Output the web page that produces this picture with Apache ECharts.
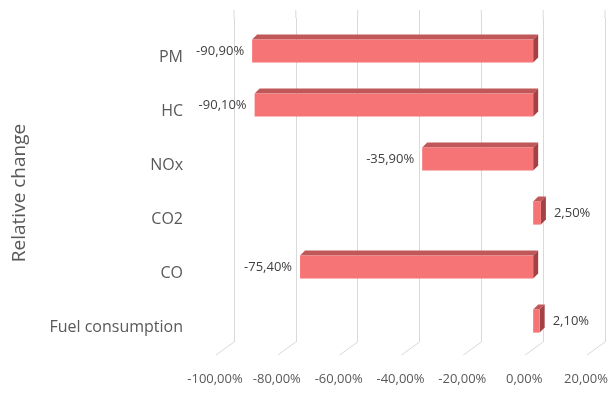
<!DOCTYPE html>
<html>
<head>
<meta charset="utf-8">
<script src="https://cdn.jsdelivr.net/npm/echarts@6/dist/echarts.min.js"></script>
<style>html,body{margin:0;padding:0;background:#fff}#c{width:613px;height:394px}</style>
</head>
<body>
<div id="c"></div>
<script>
const categories = ['PM', 'HC', 'NOx', 'CO2', 'CO', 'Fuel consumption'];
const values = [-90.9, -90.1, -35.9, 2.5, -75.4, 2.1];
const xTicks = [-100, -80, -60, -40, -20, 0, 20];
const axisTitle = 'Relative change';

const FONT = '"Open Sans", "Liberation Sans", sans-serif';
const fmt = v => v.toFixed(2).replace('.', ',') + '%';

const chart = echarts.init(document.getElementById('c'), null, {renderer: 'canvas'});

const barData = values.map((v, i) => [v, i]);
const floorData = xTicks.map(t => [t, 0]);

chart.setOption({
  animation: false,
  backgroundColor: '#fff',
  grid: {left: 234, right: 8, top: 18, bottom: 52, containLabel: false},
  xAxis: {
    type: 'value', min: xTicks[0], max: xTicks[xTicks.length - 1], interval: 20,
    axisLine: {show: false}, axisTick: {show: false},
    splitLine: {show: true, lineStyle: {color: '#d9d9d9', width: 1}},
    axisLabel: {
      formatter: v => fmt(v), color: '#595959', fontSize: 13, fontFamily: FONT,
      margin: 31, padding: [0, 38, 0, 0]
    }
  },
  yAxis: {
    type: 'category', data: categories, inverse: true,
    axisLine: {show: false}, axisTick: {show: false}, splitLine: {show: false},
    axisLabel: {color: '#595959', fontSize: 16, fontFamily: FONT, margin: 51,
      verticalAlign: 'top', lineHeight: 24},
    name: axisTitle, nameLocation: 'middle', nameRotate: 90, nameGap: 205,
    nameTextStyle: {color: '#595959', fontSize: 19, fontFamily: FONT, padding: [0, 26, 0, 0]}
  },
  series: [
    {
      type: 'custom',
      data: floorData,
      encode: {x: 0, y: 1},
      silent: true,
      renderItem: (params, api) => {
        const cs = params.coordSys;
        const p = api.coord([api.value(0), 0]);
        const bottom = cs.y + cs.height;
        return {
          type: 'group',
          children: [
            {type: 'line', shape: {x1: p[0], y1: bottom, x2: p[0] - 18, y2: bottom + 13},
             style: {stroke: '#d9d9d9', lineWidth: 1}},
            {type: 'line', shape: {x1: p[0], y1: cs.y - 8, x2: p[0], y2: cs.y},
             style: {stroke: '#d9d9d9', lineWidth: 1}}
          ]
        };
      }
    },
    {
      type: 'custom',
      data: barData,
      encode: {x: 0, y: 1},
      renderItem: (params, api) => {
        const v = api.value(0);
        const idx = api.value(1);
        const pz = api.coord([0, idx]);
        const pv = api.coord([v, idx]);
        const band = api.size([0, 1])[1];
        const h = band * 0.43;
        const ox = -10, oy = 6, d = 5;
        const xl = Math.min(pz[0], pv[0]) + ox;
        const xr = Math.max(pz[0], pv[0]) + ox;
        const cy = pz[1] + oy;
        const yt = cy - h / 2, yb = cy + h / 2;
        const children = [
          {type: 'polygon', shape: {points: [[xl, yt], [xr, yt], [xr + d, yt - d], [xl + d, yt - d]]},
           style: {fill: '#c0585a'}},
          {type: 'polygon', shape: {points: [[xr, yt], [xr + d, yt - d], [xr + d, yb - d], [xr, yb]]},
           style: {fill: '#a44144'}},
          {type: 'rect', shape: {x: xl, y: yt, width: xr - xl, height: h},
           style: {fill: '#f67475'}},
          {type: 'text',
           style: {
             text: fmt(v),
             x: v < 0 ? xl - 8 : xr + d + 8, y: cy,
             align: v < 0 ? 'right' : 'left', verticalAlign: 'middle',
             fill: '#404040', fontSize: 13, fontFamily: FONT
           }}
        ];
        return {type: 'group', children};
      }
    }
  ]
});
</script>
</body>
</html>
